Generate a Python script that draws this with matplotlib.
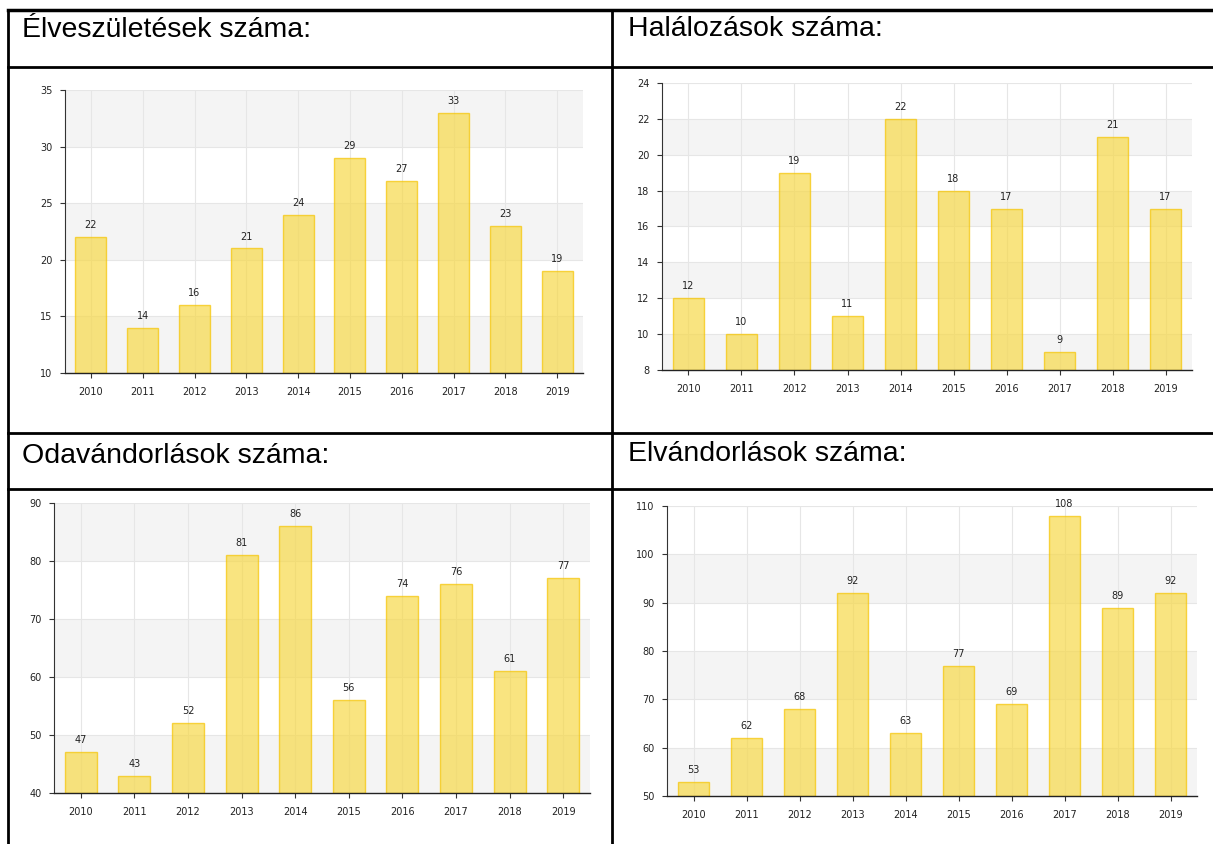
import matplotlib.pyplot as plt
from matplotlib.lines import Line2D


# =========================================================
# DATA
# =========================================================

years = ["2010", "2011", "2012", "2013", "2014",
         "2015", "2016", "2017", "2018", "2019"]

births = [22, 14, 16, 21, 24, 29, 27, 33, 23, 19]
deaths = [12, 10, 19, 11, 22, 18, 17, 9, 21, 17]
immigration = [47, 43, 52, 81, 86, 56, 74, 76, 61, 77]
emigration = [53, 62, 68, 92, 63, 77, 69, 108, 89, 92]

titles = [
    "Élveszületések száma:",
    "Halálozások száma:",
    "Odavándorlások száma:",
    "Elvándorlások száma:",
]

# (min, max, step) of each value axis
y_ranges = [(10, 35, 5), (8, 24, 2), (40, 90, 10), (50, 110, 10)]


# =========================================================
# LAYOUT (pixels)
# =========================================================

W, H = 1213, 844


def px_rect(left, top, right, bottom):
    return [left / W, 1 - bottom / H, (right - left) / W, (bottom - top) / H]


def hline(y, x0=8, x1=1213, lw=2):
    fig.add_artist(Line2D([x0 / W, x1 / W], [1 - y / H, 1 - y / H],
                          color="black", lw=lw))


def vline(x, y0=10, y1=844, lw=2):
    fig.add_artist(Line2D([x / W, x / W], [1 - y0 / H, 1 - y1 / H],
                          color="black", lw=lw))


fig = plt.figure(figsize=(W / 100, H / 100), dpi=100)

# table borders
hline(10, lw=2.5)
hline(67)
hline(433)
hline(489)
vline(8)
vline(612)

# cell headers
header_pos = [(22, 37), (628, 36), (22, 463), (628, 461)]
for (x, y), t in zip(header_pos, titles):
    fig.text(x / W, 1 - y / H, t, fontsize=20.5, family="Liberation Sans",
             color="black", va="baseline", ha="left")

# chart areas
chart_rects = [
    (65, 90, 583, 373),
    (662, 83, 1192, 370),
    (54, 503, 590, 793),
    (667, 506, 1197, 796),
]

series = [births, deaths, immigration, emigration]


# =========================================================
# CHARTS
# =========================================================

for rect, values, (lo, hi, step) in zip(chart_rects, series, y_ranges):

    ax = fig.add_axes(px_rect(*rect))
    x = list(range(len(years)))

    # alternating bands, grey at the bottom
    ticks = list(range(lo, hi + 1, step))
    for i, t in enumerate(ticks[:-1]):
        if i % 2 == 0:
            ax.axhspan(t, t + step, color="#f4f4f4", zorder=0, lw=0)

    ax.set_axisbelow(True)
    ax.grid(color="#e6e6e6", lw=0.8, zorder=0.5)

    ax.bar(x, [v - lo for v in values], bottom=lo, width=0.6,
           color="#f7d94a", alpha=0.7, edgecolor="#f5c400",
           linewidth=1, zorder=2)

    for xi, v in zip(x, values):
        ax.annotate(str(v), (xi, v), xytext=(0, 5),
                    textcoords="offset points", ha="center", va="bottom",
                    fontsize=7, color="#222222", zorder=3)

    ax.set_xlim(-0.5, len(years) - 0.5)
    ax.set_ylim(lo, hi)
    ax.set_xticks(x)
    ax.set_xticklabels(years)
    ax.set_yticks(ticks)

    for side in ("top", "right"):
        ax.spines[side].set_visible(False)
    ax.spines["left"].set_color("#333333")
    ax.spines["left"].set_linewidth(0.8)
    ax.spines["bottom"].set_color("#222222")
    ax.spines["bottom"].set_linewidth(1.0)

    ax.tick_params(axis="x", length=3.5, width=0.8, color="#333333",
                   labelsize=7, labelcolor="#222222", pad=6.5)
    ax.tick_params(axis="y", length=3.5, width=0.8, color="#333333",
                   labelsize=7, labelcolor="#222222", pad=5.5)

fig.savefig("out.png", dpi=100)
